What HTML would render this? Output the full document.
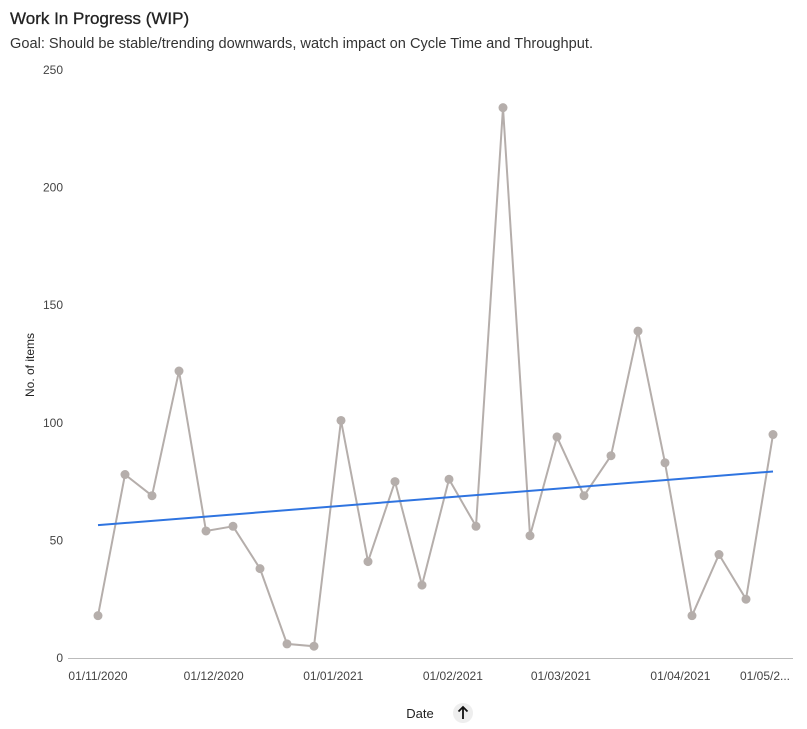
<!DOCTYPE html>
<html><head><meta charset="utf-8"><style>
body{margin:0;background:#fff;font-family:"Liberation Sans",sans-serif;}
#wrap{position:relative;width:807px;height:729px;overflow:hidden}
h1{position:absolute;left:10px;top:9px;margin:0;font-size:17px;font-weight:normal;color:#222;-webkit-text-stroke:0.3px #222}
p{position:absolute;left:10px;top:36px;margin:0;font-size:14.6px;color:#333}
</style></head><body>
<div id="wrap">
<h1>Work In Progress (WIP)</h1>
<p>Goal: Should be stable/trending downwards, watch impact on Cycle Time and Throughput.</p>
<svg id="chart" width="807" height="729" style="position:absolute;left:0;top:0"></svg>
</div>
<script>
const startDate = "2020-11-01";
const wipValues = [18,78,69,122,54,56,38,6,5,101,41,75,31,76,56,234,52,94,69,86,139,83,18,44,25,95];
const yTicks = [0,50,100,150,200,250];
const xTickDates = ["2020-11-01","2020-12-01","2021-01-01","2021-02-01","2021-03-01","2021-04-01","2021-05-01"];
const xTickLabels = ["01/11/2020","01/12/2020","01/01/2021","01/02/2021","01/03/2021","01/04/2021","01/05/2..."];

const NS="http://www.w3.org/2000/svg";
const svg=document.getElementById('chart');
const DAY=86400000, t0=Date.parse(startDate);
const x0=98, pxPerDay=27/7;
function xDays(d){return x0+d*pxPerDay;}
function xDate(s){return xDays((Date.parse(s)-t0)/DAY);}
function y(v){return 658-v*(588/250);}
function mk(tag,attrs){const e=document.createElementNS(NS,tag);for(const k in attrs)e.setAttribute(k,attrs[k]);svg.appendChild(e);return e;}

yTicks.forEach(t=>{
  const e=mk('text',{x:63,y:y(t)+4,'text-anchor':'end','font-size':12,fill:'#444','font-family':'Liberation Sans, sans-serif'});
  e.textContent=t;
  
  
});
const ax=mk('line',{x1:68,x2:793,y1:658.5,y2:658.5,stroke:'#bbb','stroke-width':1});


xTickDates.forEach((d,i)=>{
  let xx=xDate(d);
  const last=i===xTickDates.length-1;
  const e=mk('text',{x:last?Math.min(xx,765):xx,y:680,'text-anchor':'middle','font-size':12,fill:'#444','font-family':'Liberation Sans, sans-serif'});
  e.textContent=xTickLabels[i];
  
  
});
const yt=mk('text',{x:0,y:0,transform:'translate(34,365) rotate(-90)','text-anchor':'middle','font-size':12,fill:'#222','font-family':'Liberation Sans, sans-serif'});
yt.textContent='No. of items';


const xt=mk('text',{x:420,y:718,'text-anchor':'middle','font-size':13,fill:'#222','font-family':'Liberation Sans, sans-serif'});
xt.textContent='Date';


const sb=mk('g',{style:'cursor:pointer'});


const c=document.createElementNS(NS,'circle');c.setAttribute('cx',463);c.setAttribute('cy',713);c.setAttribute('r',10);c.setAttribute('fill','#eee');sb.appendChild(c);
const ar=document.createElementNS(NS,'path');ar.setAttribute('d','M463 719 V707 M458.5 711.5 L463 707 L467.5 711.5');ar.setAttribute('stroke','#111');ar.setAttribute('stroke-width','1.8');ar.setAttribute('fill','none');sb.appendChild(ar);

const pts=wipValues.map((v,i)=>[xDays(i*7),y(v)]);
const line=mk('polyline',{points:pts.map(p=>p.join(',')).join(' '),fill:'none',stroke:'#b5aeab','stroke-width':2});


const n=wipValues.length;let sx=0,sy=0,sxy=0,sxx=0;
wipValues.forEach((v,i)=>{sx+=i;sy+=v;sxy+=i*v;sxx+=i*i;});
const b=(n*sxy-sx*sy)/(n*sxx-sx*sx),a=(sy-b*sx)/n;
const tr=mk('line',{x1:xDays(0),y1:y(a),x2:xDays((n-1)*7),y2:y(a+b*(n-1)),stroke:'#2f74e0','stroke-width':2});


pts.forEach(p=>{
  const d=mk('circle',{cx:p[0],cy:p[1],r:4.5,fill:'#b5aeab'});
  
  
});
</script>
</body></html>
